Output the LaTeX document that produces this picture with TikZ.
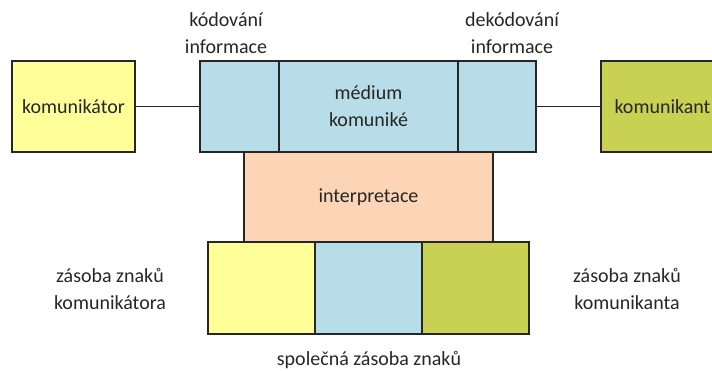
\documentclass[tikz,border=0pt]{standalone}
\usepackage{fontspec}
\setmainfont{Carlito}
\definecolor{cyel}{HTML}{FFFF99}
\definecolor{cblue}{HTML}{B7DDE8}
\definecolor{cpeach}{HTML}{FBD5B5}
\definecolor{cgreen}{HTML}{C8D152}
\begin{document}
\begin{tikzpicture}[x=1pt,y=-1pt,
  box/.style={draw=black!85, line width=1.3pt, inner sep=0pt, align=center},
  lbl/.style={inner sep=0pt, align=center},
  every node/.append style={font=\fontsize{20}{27}\selectfont, text=black!85}]
\useasboundingbox (0,0) rectangle (712,371);
\clip (0,0) rectangle (712,371);
% interpretace (behind)
\node[box, fill=cpeach, minimum width=249pt, minimum height=90pt] (interp) at (368.5,197) {interpretace};
% top row
\node[box, fill=cyel, minimum width=123pt, minimum height=91pt] (komunikator) at (73.5,106.5) {komunikátor};
\node[box, fill=cblue, minimum width=79pt, minimum height=91pt] (kod) at (239.5,106.5) {};
\node[box, fill=cblue, minimum width=179pt, minimum height=91pt] (medium) at (368.5,106.5) {médium\\komuniké};
\node[box, fill=cblue, minimum width=78pt, minimum height=91pt] (dekod) at (497,106.5) {};
\node[box, fill=cgreen, minimum width=123pt, minimum height=91pt] (komunikant) at (662.5,106.5) {komunikant};
\draw[line width=1.3pt, black!85] (komunikator.east) -- (kod.west);
\draw[line width=1.3pt, black!85] (dekod.east) -- (komunikant.west);
% bottom row
\node[box, fill=cyel, minimum width=107pt, minimum height=92pt] (zk) at (261.5,288) {};
\node[box, fill=cblue, minimum width=107pt, minimum height=92pt] (zs) at (368.5,288) {};
\node[box, fill=cgreen, minimum width=107pt, minimum height=92pt] (zn) at (475.5,288) {};
% labels
\node[lbl] (lkod) at (226,33.5) {kódování\\informace};
\node[lbl] (ldekod) at (512,33.5) {dekódování\\informace};
\node[lbl] (lzk) at (110,289) {zásoba znaků\\komunikátora};
\node[lbl] (lzn) at (627,289) {zásoba znaků\\komunikanta};
\node[lbl] (lspol) at (369,360) {společná zásoba znaků};
\end{tikzpicture}
\end{document}
